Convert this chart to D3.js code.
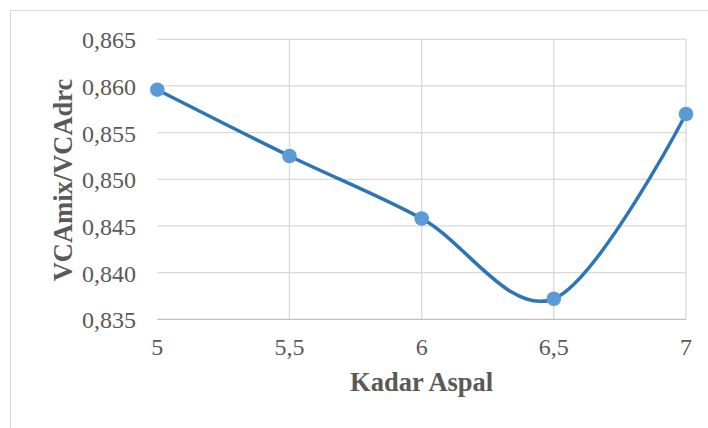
<!DOCTYPE html>
<html>
<head>
<meta charset="utf-8">
<script src="https://cdn.jsdelivr.net/npm/d3@7"></script>
<style>
  html, body { margin: 0; padding: 0; background: #fff; }
  svg { display: block; font-family: "Liberation Serif", "Times New Roman", serif; }
</style>
</head>
<body>
<div id="chart"></div>
<script>
// data
const kadarAspal = [5, 5.5, 6, 6.5, 7];
const ratio = [0.8596, 0.8525, 0.8458, 0.8372, 0.8570];
const yTicks = [0.835, 0.840, 0.845, 0.850, 0.855, 0.860, 0.865];
const xTicks = [5, 5.5, 6, 6.5, 7];

const width = 708, height = 428;
const margin = { top: 39.3, right: 22, bottom: 108.7, left: 157.3 };

const svg = d3.select('#chart')
    .append('svg')
    .attr('width', width)
    .attr('height', height);

// chart frame (runs off the right and bottom edge)
svg.append('rect')
    .attr('x', 10.5).attr('y', 10.5)
    .attr('width', 720).attr('height', 440)
    .attr('fill', 'none')
    .attr('stroke', '#d9d9d9')
    .attr('stroke-width', 1);

const x = d3.scaleLinear()
    .domain([5, 7])
    .range([margin.left, width - margin.right]);

const y = d3.scaleLinear()
    .domain([0.835, 0.865])
    .range([height - margin.bottom, margin.top]);

const fmt = v => d3.format('.3f')(v).replace('.', ',');
const fmtX = v => String(v).replace('.', ',');

// horizontal gridlines
svg.append('g')
    .selectAll('line')
    .data(yTicks.slice(1))
    .enter()
    .append('line')
    .attr('x1', x(5)).attr('x2', x(7))
    .attr('y1', d => y(d)).attr('y2', d => y(d))
    .attr('stroke', '#d9d9d9')
    .attr('stroke-width', 1.3);

// vertical gridlines
svg.append('g')
    .selectAll('line')
    .data(xTicks.slice(1))
    .enter()
    .append('line')
    .attr('x1', d => x(d)).attr('x2', d => x(d))
    .attr('y1', y(0.835)).attr('y2', y(0.865))
    .attr('stroke', '#d9d9d9')
    .attr('stroke-width', 1.3);

// bottom axis line
svg.append('line')
    .attr('x1', x(5)).attr('x2', x(7))
    .attr('y1', y(0.835)).attr('y2', y(0.835))
    .attr('stroke', '#bfbfbf')
    .attr('stroke-width', 1.3);

// y tick labels
svg.append('g')
    .selectAll('text')
    .data(yTicks)
    .enter()
    .append('text')
    .attr('x', 136)
    .attr('y', d => y(d))
    .attr('dy', '0.37em')
    .attr('text-anchor', 'end')
    .attr('fill', '#595959')
    .style('font-size', '24px')
    .text(fmt);

// x tick labels
svg.append('g')
    .selectAll('text')
    .data(xTicks)
    .enter()
    .append('text')
    .attr('x', d => x(d))
    .attr('y', 355)
    .attr('text-anchor', 'middle')
    .attr('fill', '#595959')
    .style('font-size', '24px')
    .text(fmtX);

// axis titles
svg.append('text')
    .attr('x', (x(5) + x(7)) / 2)
    .attr('y', 391)
    .attr('text-anchor', 'middle')
    .attr('fill', '#595959')
    .style('font-size', '26.5px')
    .style('font-weight', 'bold')
    .text('Kadar Aspal');

svg.append('text')
    .attr('transform', 'translate(72,180) rotate(-90)')
    .attr('text-anchor', 'middle')
    .attr('fill', '#595959')
    .style('font-size', '26.5px')
    .style('font-weight', 'bold')
    .text('VCAmix/VCAdrc');

// smoothed series line
const points = kadarAspal.map((k, i) => [k, ratio[i]]);
const line = d3.line()
    .x(d => x(d[0]))
    .y(d => y(d[1]))
    .curve(d3.curveCardinal.tension(0));

svg.append('path')
    .datum(points)
    .attr('d', line)
    .attr('fill', 'none')
    .attr('stroke', '#2e75b6')
    .attr('stroke-width', 3.5)
    .attr('stroke-linejoin', 'round')
    .attr('stroke-linecap', 'round');

svg.append('g')
    .selectAll('circle')
    .data(points)
    .enter()
    .append('circle')
    .attr('cx', d => x(d[0]))
    .attr('cy', d => y(d[1]))
    .attr('r', 7.3)
    .attr('fill', '#5b9bd5');
</script>
</body>
</html>
